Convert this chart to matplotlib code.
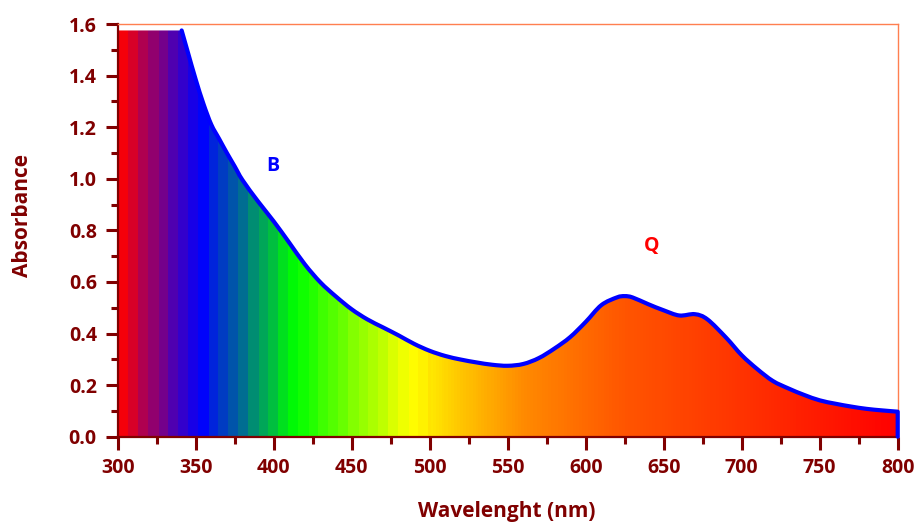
import numpy as np
import matplotlib
matplotlib.use("Agg")
import matplotlib.pyplot as plt
from matplotlib.colors import LinearSegmentedColormap
from matplotlib.patches import PathPatch
from matplotlib.path import Path
from matplotlib.ticker import MultipleLocator

# ---- data ----
wavelength = [341, 345, 350, 355, 360, 365, 370, 375, 380, 390, 400, 410, 420,
              430, 440, 450, 460, 470, 480, 490, 500, 510, 520, 530, 540, 550,
              560, 570, 580, 590, 600, 610, 620, 625, 630, 640, 650, 660, 670,
              678, 690, 700, 710, 720, 730, 740, 750, 760, 770, 780, 790, 800]
absorbance = [1.575, 1.49, 1.385, 1.29, 1.21, 1.155, 1.10, 1.048, 0.995, 0.912,
              0.835, 0.752, 0.668, 0.598, 0.543, 0.494, 0.455, 0.424, 0.393,
              0.360, 0.333, 0.313, 0.299, 0.288, 0.279, 0.275, 0.282, 0.305,
              0.342, 0.386, 0.445, 0.510, 0.540, 0.545, 0.540, 0.514, 0.490,
              0.470, 0.475, 0.455, 0.384, 0.316, 0.262, 0.216, 0.187, 0.162,
              0.141, 0.128, 0.117, 0.108, 0.102, 0.097]
saturation_start = 300
saturation_level = 1.575
band_labels = ["B", "Q"]
band_pos = [(399.5, 1.05), (642, 0.74)]
band_colors = ["#0000FF", "#FF0000"]
x_ticks = [300, 350, 400, 450, 500, 550, 600, 650, 700, 750, 800]
y_ticks = [0.0, 0.2, 0.4, 0.6, 0.8, 1.0, 1.2, 1.4, 1.6]

# spectrum gradient stops (wavelength, colour)
grad_stops = [(300, "#FF0000"), (325, "#800080"), (352, "#0000FF"),
              (383, "#008080"), (413, "#00FF00"), (450, "#80FF00"),
              (487, "#FFFF00"), (520, "#FFC400"), (560, "#FF8A00"),
              (625, "#FF5500"), (700, "#FF3300"), (800, "#FF0000")]

DARK = "#800000"
FONT = "Open Sans"


def smooth_path_codes(xs, ys):
    """Smoothed (Catmull-Rom) line through the data points, as a Bezier path."""
    pts = np.column_stack([xs, ys]).astype(float)
    n = len(pts)
    verts = [pts[0]]
    codes = [Path.MOVETO]
    for i in range(n - 1):
        p0 = pts[i - 1] if i > 0 else pts[i]
        p1 = pts[i]
        p2 = pts[i + 1]
        p3 = pts[i + 2] if i + 2 < n else pts[i + 1]
        c1 = p1 + (p2 - p0) / 6.0
        c2 = p2 - (p3 - p1) / 6.0
        verts += [c1, c2, p2]
        codes += [Path.CURVE4] * 3
    return verts, codes


fig = plt.figure(figsize=(9.18, 5.22), dpi=100)
ax = fig.add_axes([0.1282, 0.1634, 0.8497, 0.7906])

ax.set_xlim(300, 800)
ax.set_ylim(0.0, 1.6)

# gradient image
lo, hi = grad_stops[0][0], grad_stops[-1][0]
cmap = LinearSegmentedColormap.from_list(
    "spec", [((w - lo) / (hi - lo), c) for w, c in grad_stops])
xs = np.arange(300, 800, 0.5)
band = 6.4
xq = np.floor((xs - 300) / band) * band + 300 + band / 2
xq = np.where(xs > 500, xs, xq)
vals = (np.clip(xq, lo, hi) - lo) / (hi - lo)
img = cmap(vals)[np.newaxis, :, :]
im = ax.imshow(img, extent=[300, 800, 0, 1.6], aspect="auto",
               origin="lower", zorder=1, interpolation="nearest")

# smoothed curve
cv, cc = smooth_path_codes(wavelength, absorbance)

fill_verts = [(saturation_start, 0.0), (saturation_start, saturation_level)] + \
    [tuple(v) for v in cv] + [(wavelength[-1], 0.0), (saturation_start, 0.0)]
fill_codes = [Path.MOVETO, Path.LINETO, Path.LINETO] + cc[1:] + \
    [Path.LINETO, Path.CLOSEPOLY]
fill_patch = PathPatch(Path(fill_verts, fill_codes), facecolor="none",
                       edgecolor="none", transform=ax.transData)
ax.add_patch(fill_patch)
im.set_clip_path(fill_patch)

line_verts = [tuple(v) for v in cv] + [(wavelength[-1], 0.0)]
line_codes = cc + [Path.LINETO]
ax.add_patch(PathPatch(Path(line_verts, line_codes), facecolor="none",
                       edgecolor="#0000FF", lw=3, zorder=3, clip_on=False,
                       capstyle="round", joinstyle="round"))

for lab, (x, y), c in zip(band_labels, band_pos, band_colors):
    ax.text(x, y, lab, color=c, fontsize=14, fontweight="bold",
            family=FONT, ha="center", va="center")

# axes styling
for side in ["top", "right"]:
    ax.spines[side].set_color("#FF7F50")
    ax.spines[side].set_linewidth(1.0)
for side in ["left", "bottom"]:
    ax.spines[side].set_color(DARK)
    ax.spines[side].set_linewidth(1.6)

ax.set_xticks(x_ticks)
ax.set_yticks(y_ticks)
ax.set_yticklabels([f"{v:.1f}" for v in y_ticks])
ax.xaxis.set_minor_locator(MultipleLocator(25))
ax.yaxis.set_minor_locator(MultipleLocator(0.1))
ax.tick_params(which="major", direction="out", length=9, width=2.2,
               color=DARK, labelcolor=DARK, labelsize=14, pad=6)
ax.tick_params(which="minor", direction="out", length=5, width=2.2, color=DARK)
ax.tick_params(top=False, right=False, which="both")
for lbl in ax.get_xticklabels() + ax.get_yticklabels():
    lbl.set_fontweight("bold")
    lbl.set_family(FONT)

xl = ax.set_xlabel("Wavelenght (nm)", fontsize=15, fontweight="bold",
                   color=DARK, family=FONT)
yl = ax.set_ylabel("Absorbance", fontsize=15, fontweight="bold",
                   color=DARK, family=FONT)
xl.set_verticalalignment("center")
yl.set_verticalalignment("center")
ax.xaxis.set_label_coords(0.499, -0.182)
ax.yaxis.set_label_coords(-0.122, 0.535)

fig.savefig("out.png", dpi=100)
